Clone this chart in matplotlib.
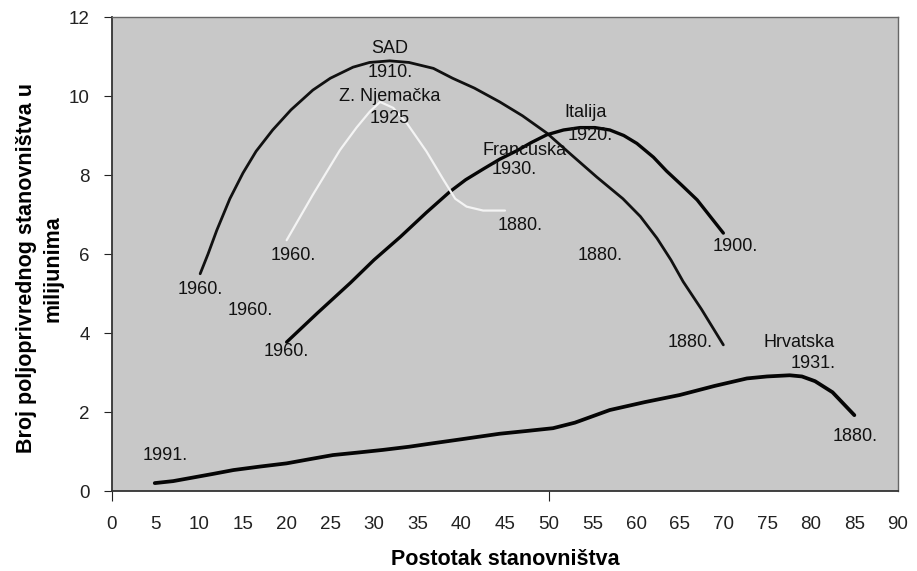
import matplotlib
matplotlib.use("Agg")
import matplotlib.pyplot as plt

plt.rcParams['font.family'] = ['Liberation Sans', 'DejaVu Sans']

# Data (x = postotak stanovništva, y = milijuni)
sad_x = [10.1, 11.0, 12.0, 13.5, 15.0, 16.5, 18.4, 20.5, 23.0, 25.0, 27.6, 29.5, 31.8, 34.0,
         36.8, 39.0, 41.5, 44.4, 47.0, 49.8, 52.4, 55.5, 58.5, 60.5, 62.4, 64.0, 65.4, 67.5, 70.0]
sad_y = [5.5, 6.0, 6.6, 7.4, 8.05, 8.6, 9.14, 9.65, 10.15, 10.45, 10.73, 10.85, 10.89, 10.85,
         10.7, 10.45, 10.2, 9.85, 9.5, 9.06, 8.55, 7.95, 7.4, 6.95, 6.4, 5.85, 5.3, 4.6, 3.7]

ita_x = [20.0, 23.5, 27.3, 30.0, 33.0, 36.0, 38.7, 40.5, 42.5, 44.4, 46.4, 48.0, 49.8, 51.7,
         53.6, 55.3, 57.0, 58.6, 60.1, 62.0, 63.5, 65.2, 67.0, 68.5, 70.0]
ita_y = [3.77, 4.5, 5.27, 5.85, 6.43, 7.05, 7.58, 7.88, 8.15, 8.4, 8.62, 8.82, 9.02, 9.14,
         9.2, 9.2, 9.14, 9.0, 8.8, 8.45, 8.1, 7.75, 7.37, 6.95, 6.53]

njem_x = [20.0, 23.0, 26.1, 28.0, 29.5, 30.7, 32.2, 33.8, 36.0, 37.9, 39.3, 40.6, 42.5, 45.0]
njem_y = [6.35, 7.5, 8.63, 9.2, 9.6, 9.85, 9.7, 9.3, 8.6, 7.9, 7.4, 7.2, 7.1, 7.1]

hrv_x = [4.9, 7.0, 9.0, 11.5, 13.9, 17.0, 20.0, 22.5, 25.3, 28.0, 31.0, 34.0, 36.8, 40.0,
         44.4, 47.5, 50.5, 53.0, 57.0, 61.0, 65.0, 69.0, 72.7, 75.0, 77.6, 79.0, 80.5, 82.5, 85.0]
hrv_y = [0.2, 0.25, 0.33, 0.43, 0.53, 0.62, 0.7, 0.8, 0.91, 0.97, 1.04, 1.12, 1.21, 1.31,
         1.45, 1.52, 1.59, 1.73, 2.05, 2.25, 2.43, 2.66, 2.85, 2.9, 2.93, 2.9, 2.78, 2.5, 1.92]

# Labels: (text, x, y)
label_texts = ["SAD", "1910.", "Z. Njemačka", "1925", "1960.", "1960.", "1960.", "1960.",
               "Italija", "1920.", "Francuska", "1930.", "1880.", "1880.", "1900.", "1880.",
               "Hrvatska", "1931.", "1880.", "1991."]
label_x = [31.8, 31.8, 31.8, 31.8, 10.1, 20.7, 15.8, 19.9,
           54.2, 54.7, 47.2, 46.1, 46.7, 55.9, 71.4, 66.2,
           78.7, 80.3, 85.1, 6.1]
label_y = [11.2, 10.6, 10.0, 9.42, 5.09, 5.97, 4.56, 3.52,
           9.57, 9.0, 8.63, 8.13, 6.73, 5.97, 6.2, 3.75,
           3.75, 3.24, 1.37, 0.91]

x_ticks = list(range(0, 95, 5))
y_ticks = list(range(0, 14, 2))

fig = plt.figure(figsize=(9.17, 5.71), dpi=100)
ax = fig.add_axes([0.1221, 0.1401, 0.8572, 0.8301])
ax.set_facecolor('#c8c8c8')

ax.plot(sad_x, sad_y, color='#111111', lw=2.0, solid_capstyle='round', solid_joinstyle='round')
ax.plot(ita_x, ita_y, color='#050505', lw=2.4, solid_capstyle='round', solid_joinstyle='round')
ax.plot(njem_x, njem_y, color='#f4f4f4', lw=1.6, solid_capstyle='round', solid_joinstyle='round')
ax.plot(hrv_x, hrv_y, color='#050505', lw=2.7, solid_capstyle='round', solid_joinstyle='round')

for t, x, y in zip(label_texts, label_x, label_y):
    ax.text(x, y, t, ha='center', va='center', fontsize=13, color='#111111')

ax.set_xlim(0, 90)
ax.set_ylim(0, 12)
ax.set_xticks(x_ticks)
ax.set_yticks(y_ticks)
ax.tick_params(axis='both', labelsize=13.5, colors='#222222')
ax.tick_params(axis='x', direction='out', length=7, pad=11)
ax.tick_params(axis='y', direction='out', length=6, pad=10)
for loc, tk in zip(x_ticks, ax.xaxis.get_major_ticks()):
    tk.tick1line.set_visible(loc in (0, 50))

for s in ['left', 'bottom']:
    ax.spines[s].set_color('#333333')
    ax.spines[s].set_linewidth(1.3)
for s in ['top', 'right']:
    ax.spines[s].set_color('#666666')
    ax.spines[s].set_linewidth(1.0)

ax.set_xlabel('Postotak stanovništva', fontsize=15.5, fontweight='bold')
ax.xaxis.set_label_coords(0.5, -0.122)
ax.set_ylabel('Broj poljoprivrednog stanovništva u\nmilijunima', fontsize=15.5,
              fontweight='bold', linespacing=1.35, va='center', ha='center')
ax.yaxis.set_label_coords(-0.0916, 0.47)

fig.savefig('out.png', dpi=100)
